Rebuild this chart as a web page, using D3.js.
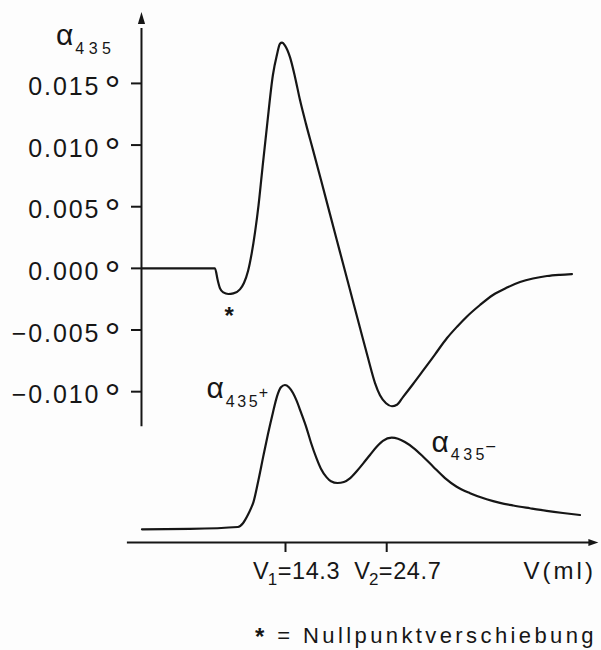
<!DOCTYPE html>
<html><head><meta charset="utf-8">
<script src="https://cdn.jsdelivr.net/npm/d3@7"></script>
<style>
html,body{margin:0;padding:0;background:#fdfdfd;}
svg{display:block;}
text{font-family:"Liberation Sans",Arial,sans-serif;fill:#161616;}
</style></head><body>
<svg id="c" width="601" height="650"></svg>
<script>
// Upper curve: total optical rotation alpha_435 (degrees) vs elution volume V (ml)
const totalV = [-0.45, 7.05, 7.33, 7.57, 7.91, 8.42, 8.94, 9.62, 10.03, 10.45, 10.83, 11.17, 11.53, 11.88, 12.4, 13.01, 13.42, 13.73, 13.94, 14.25, 14.76, 15.28, 15.79, 16.41, 17.13, 17.95, 18.87, 19.9, 20.93, 21.96, 22.78, 23.5, 24.01, 24.63, 25.24, 25.75, 26.37, 27.41, 28.43, 29.67, 30.9, 31.93, 32.95, 34.29, 35.62, 37.06, 38.4, 39.73, 41.17, 42.51, 43.74];
const totalAlpha = [0, 0, -0.00095, -0.00162, -0.00195, -0.00208, -0.00203, -0.0017, -0.00119, -0.00022, 0.00124, 0.00294, 0.00513, 0.00775, 0.01156, 0.0157, 0.01732, 0.01822, 0.01831, 0.01807, 0.01713, 0.01551, 0.01365, 0.0117, 0.00959, 0.00716, 0.0044, 0.00132, -0.00176, -0.00484, -0.00727, -0.0093, -0.01029, -0.01094, -0.01118, -0.01106, -0.01044, -0.00938, -0.00830, -0.00697, -0.00565, -0.00473, -0.00390, -0.00297, -0.00216, -0.00156, -0.00111, -0.00082, -0.00062, -0.00052, -0.00046];
// Lower curve: separated components alpha_435+ / alpha_435- (relative units)
const compV = [-0.45, 4.48, 9.41, 9.93, 10.44, 10.75, 10.99, 11.5, 12.0, 12.5, 13.01, 13.42, 13.83, 14.24, 14.65, 15.07, 15.45, 15.89, 16.47, 16.92, 17.5, 17.94, 18.53, 18.97, 19.64, 20.3, 20.92, 21.64, 22.29, 22.98, 23.67, 24.31, 25.21, 25.86, 26.57, 27.43, 28.42, 29.48, 30.69, 31.89, 33.26, 34.97, 36.34, 37.7, 39.42, 41.14, 42.81, 44.56];
const compSignal = [0, 0.3, 1.6, 4.2, 10, 14.5, 18.5, 33.5, 50, 66, 81, 92, 98.5, 100, 98.5, 94.5, 89, 81, 70, 60, 49, 42, 36, 33.3, 32.1, 32.8, 35.3, 40.4, 45.7, 51.5, 57.2, 61.3, 63.5, 62.8, 60.5, 56.5, 50.5, 43.4, 35.5, 29.5, 25, 20.8, 18.3, 16.5, 14.6, 12.8, 11.3, 9.9];

const yTickValues = [0.015, 0.010, 0.005, 0, -0.005, -0.010];
const yTickLabels = ["0.015", "0.010", "0.005", "0.000", "\u22120.005", "\u22120.010"];
const xTickValues = [14.3, 24.7];
const xTickSubs = ["1", "2"];
const xTickLabels = ["14.3", "24.7"];
const dipV = 8.42, dipAlpha = -0.00208;

const svg = d3.select("#c");
const ink = "#161616";

const x = d3.scaleLinear().domain([0, 46]).range([146.35, 593.98]);
const y = d3.scaleLinear().domain([-0.0128, 0.0208]).range([426.2, 11.9]);
const yLow = d3.scaleLinear().domain([0, 100]).range([529.3, 385]);

const yAxisX = x(-0.5);
const xAxisY = yLow(-9.15);

// y axis
svg.append("line").attr("x1", yAxisX).attr("x2", yAxisX)
  .attr("y1", y(-0.0128)).attr("y2", y(0.0195))
  .attr("stroke", ink).attr("stroke-width", 2);
svg.append("path")
  .attr("d", `M${yAxisX},${y(0.0208)} L${yAxisX-3.6},${y(0.0208)+12} L${yAxisX+3.6},${y(0.0208)+12} Z`)
  .attr("fill", ink);

yTickValues.forEach((t, i) => {
  svg.append("line").attr("x1", yAxisX - 10.5).attr("x2", yAxisX)
    .attr("y1", y(t)).attr("y2", y(t)).attr("stroke", ink).attr("stroke-width", 2);
  const tx = svg.append("text").attr("x", yAxisX - 19.2).attr("y", y(t) + 11.6)
    .attr("text-anchor", "end").attr("font-size", 25).style("letter-spacing", "1.9px");
  tx.append("tspan").text(yTickLabels[i]);
  tx.append("tspan").attr("font-size", 40).attr("dy", 9).attr("dx", 4).text("\u00B0");
});

// x axis
svg.append("line").attr("x1", x(-2)).attr("x2", x(45.9))
  .attr("y1", xAxisY).attr("y2", xAxisY).attr("stroke", ink).attr("stroke-width", 2);
svg.append("path")
  .attr("d", `M${x(46.45)},${xAxisY} L${x(46.45)-10},${xAxisY-3.6} L${x(46.45)-10},${xAxisY+3.6} Z`)
  .attr("fill", ink);

xTickValues.forEach((t, i) => {
  svg.append("line").attr("x1", x(t)).attr("x2", x(t))
    .attr("y1", xAxisY).attr("y2", xAxisY + 9.5).attr("stroke", ink).attr("stroke-width", 2);
  const tx = svg.append("text").attr("x", x(t) - 32.5).attr("y", xAxisY + 36.5)
    .attr("font-size", 23.5);
  tx.append("tspan").text("V");
  tx.append("tspan").attr("font-size", 17).attr("dy", 5.5).attr("dx", -1).text(xTickSubs[i]);
  tx.append("tspan").attr("dy", -5.5).attr("dx", 0.5).style("letter-spacing", "0.6px").text("=" + xTickLabels[i]);
});
svg.append("text").attr("x", x(46.2)).attr("y", xAxisY + 36.5)
  .attr("text-anchor", "end").attr("font-size", 24).style("letter-spacing", "3px")
  .text("V(ml)");

// curves
const lineTop = d3.line().x((d, i) => x(totalV[i])).y(d => y(d)).curve(d3.curveMonotoneX);
svg.append("path").attr("d", lineTop(totalAlpha))
  .attr("fill", "none").attr("stroke", ink).attr("stroke-width", 2.2)
  .attr("stroke-linejoin", "round").attr("stroke-linecap", "round");

const lineLow = d3.line().x((d, i) => x(compV[i])).y(d => yLow(d)).curve(d3.curveMonotoneX);
svg.append("path").attr("d", lineLow(compSignal))
  .attr("fill", "none").attr("stroke", ink).attr("stroke-width", 2.2)
  .attr("stroke-linejoin", "round").attr("stroke-linecap", "round");

// star marking zero-point shift
svg.append("text").attr("x", x(dipV) + 1).attr("y", y(dipAlpha) + 30)
  .attr("text-anchor", "middle").attr("font-size", 24).attr("font-weight", "bold").text("*");

// labels
function alphaLabel(px, py, sup, sp) {
  const t = svg.append("text").attr("x", px).attr("y", py).attr("font-size", 30);
  t.append("tspan").text("\u03B1");
  t.append("tspan").attr("font-size", 16).attr("dy", 8.5).attr("dx", 2)
    .style("letter-spacing", sp + "px").text("435");
  if (sup) t.append("tspan").attr("font-size", 16).attr("dy", -9).attr("dx", -1.5).text(sup);
}
alphaLabel(56, 45, null, 4.4);
alphaLabel(206.5, 398, "+", 2.6);
alphaLabel(431.5, 451.5, "\u2013", 3.4);

// footnote
const note = svg.append("text").attr("x", 597).attr("y", 643)
  .attr("text-anchor", "end").attr("font-size", 22).style("letter-spacing", "3.4px");
note.append("tspan").attr("font-weight", "bold").attr("font-size", 24).attr("dy", 2).text("*");
note.append("tspan").attr("dy", -2).text(" = Nullpunktverschiebung");
</script>
</body></html>
